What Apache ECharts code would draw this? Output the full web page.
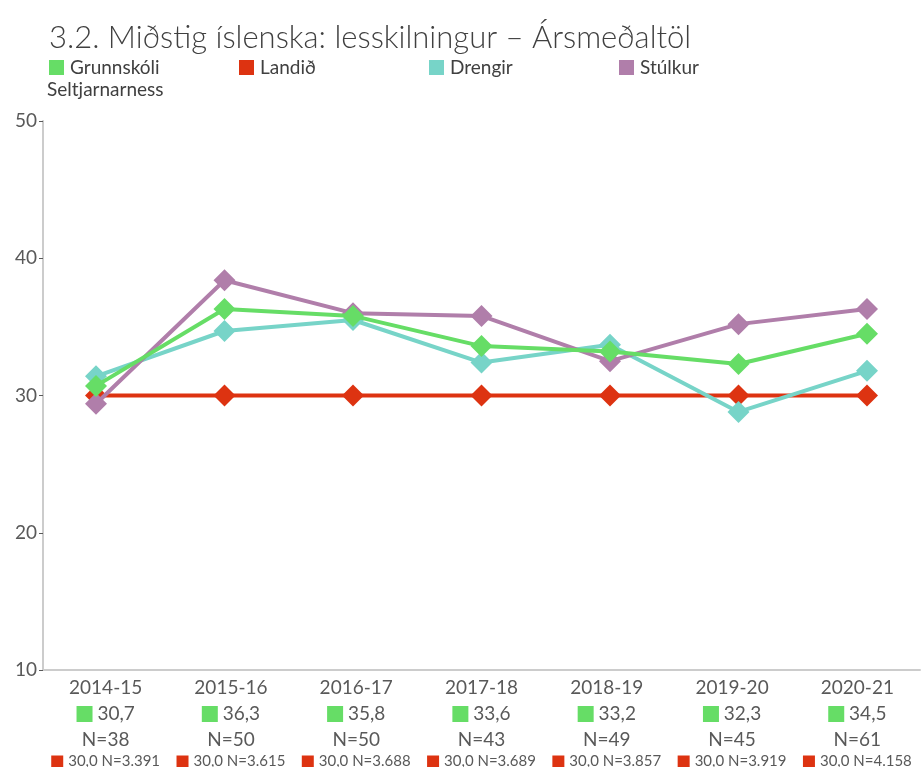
<!DOCTYPE html>
<html><head><meta charset="utf-8">
<script src="https://cdn.jsdelivr.net/npm/echarts@6/dist/echarts.min.js"></script>
<style>html,body{margin:0;padding:0;background:#fff}#c{width:921px;height:767px}</style>
</head><body><div id="c"></div>
<script>
const categories = ['2014-15','2015-16','2016-17','2017-18','2018-19','2019-20','2020-21'];
const grunnskoli = [30.7, 36.3, 35.8, 33.6, 33.2, 32.3, 34.5];
const grunnskoliN = [38, 50, 50, 43, 49, 45, 61];
const landid = [30.0, 30.0, 30.0, 30.0, 30.0, 30.0, 30.0];
const landidN = [3391, 3615, 3688, 3689, 3857, 3919, 4158];
const drengir = [31.4, 34.7, 35.5, 32.4, 33.7, 28.8, 31.8];
const stulkur = [29.4, 38.4, 36.0, 35.8, 32.5, 35.2, 36.3];
const yTicks = [10, 20, 30, 40, 50];
const seriesNames = ['Grunnskóli Seltjarnarness', 'Landið', 'Drengir', 'Stúlkur'];

const FONT = 'Lato, "Open Sans", sans-serif';
const C_G = '#66dd66', C_R = '#dd3311', C_T = '#77d4c8', C_P = '#b07eaa';
const fmt1 = v => v.toFixed(1).replace('.', ',');
const fmtN = n => String(n).replace(/\B(?=(\d{3})+(?!\d))/g, '.');

const chart = echarts.init(document.getElementById('c'));
const mk = (name, data, color, z) => ({
  name, type: 'line', data, xAxisIndex: 1, yAxisIndex: 1, z,
  symbol: 'diamond', symbolSize: 22, showSymbol: true,
  lineStyle: { width: 4, color }, itemStyle: { color },
  emphasis: { disabled: true }, animation: false
});
const legends = seriesNames.map((n, i) => ({
  left: 44 + i * 190, top: 53, itemWidth: 15, itemHeight: 15, icon: 'rect',
  data: [n],
  formatter: s => s === 'Grunnskóli Seltjarnarness' ? 'Grunnskóli' : s,
  textStyle: { fontFamily: FONT, fontSize: 19, color: '#404040', padding: [0,0,0,1] }
}));
chart.setOption({
  animation: false,
  textStyle: { fontFamily: FONT },
  title: {
    text: '3.2. Miðstig íslenska: lesskilningur – Ársmeðaltöl',
    left: 44, top: 17,
    textStyle: { fontFamily: FONT, fontWeight: 300, fontSize: 31, color: '#404040' }
  },
  legend: legends,
  graphic: [{
    type: 'text', left: 47, top: 80,
    style: { text: 'Seltjarnarness', font: '19px ' + FONT, fill: '#404040' }
  }],
  grid: [
    { left: 43, right: 1, top: 121, bottom: 97, outerBoundsMode: 'none', containLabel: false },
    { left: 96, right: 54, top: 121, bottom: 97, outerBoundsMode: 'none', containLabel: false }
  ],
  xAxis: [
    { gridIndex: 0, type: 'category', data: categories, boundaryGap: true,
      axisLine: { show: true, lineStyle: { color: '#cccccc', width: 2 } },
      axisTick: { show: false }, splitLine: { show: false },
      axisLabel: {
        interval: 0, margin: 5, color: '#595959', fontSize: 19, fontFamily: FONT, lineHeight: 26,
        formatter: (v, i) => `${v}\n{g|} ${fmt1(grunnskoli[i])}\nN=${grunnskoliN[i]}\n{r|}{s|${fmt1(landid[i])} N=${fmtN(landidN[i])}}`,
        rich: {
          g: { backgroundColor: C_G, width: 16, height: 16 },
          r: { backgroundColor: C_R, width: 12, height: 12, lineHeight: 17 },
          s: { fontSize: 15, color: '#595959', fontFamily: FONT, lineHeight: 17, padding: [0, 0, 0, 5] }
        }
      } },
    { gridIndex: 1, type: 'category', data: categories, boundaryGap: false, show: false,
      axisLine: { show: false }, axisTick: { show: false }, axisLabel: { show: false }, splitLine: { show: false } }
  ],
  yAxis: [
    { gridIndex: 0, type: 'value', min: 10, max: 50, interval: 10,
      axisLine: { show: true, lineStyle: { color: '#cccccc', width: 2 } },
      axisTick: { show: true, length: 4, lineStyle: { color: '#595959', width: 1 } },
      axisLabel: { color: '#595959', fontSize: 19, fontFamily: FONT, margin: 6,
        formatter: v => yTicks.includes(v) ? String(v) : '' },
      splitLine: { show: false } },
    { gridIndex: 1, type: 'value', min: 10, max: 50, interval: 10, show: false, splitLine: { show: false } }
  ],
  series: [
    mk('Landið', landid, C_R, 2),
    mk('Drengir', drengir, C_T, 3),
    mk('Stúlkur', stulkur, C_P, 4),
    mk('Grunnskóli Seltjarnarness', grunnskoli, C_G, 5)
  ]
});
</script></body></html>
